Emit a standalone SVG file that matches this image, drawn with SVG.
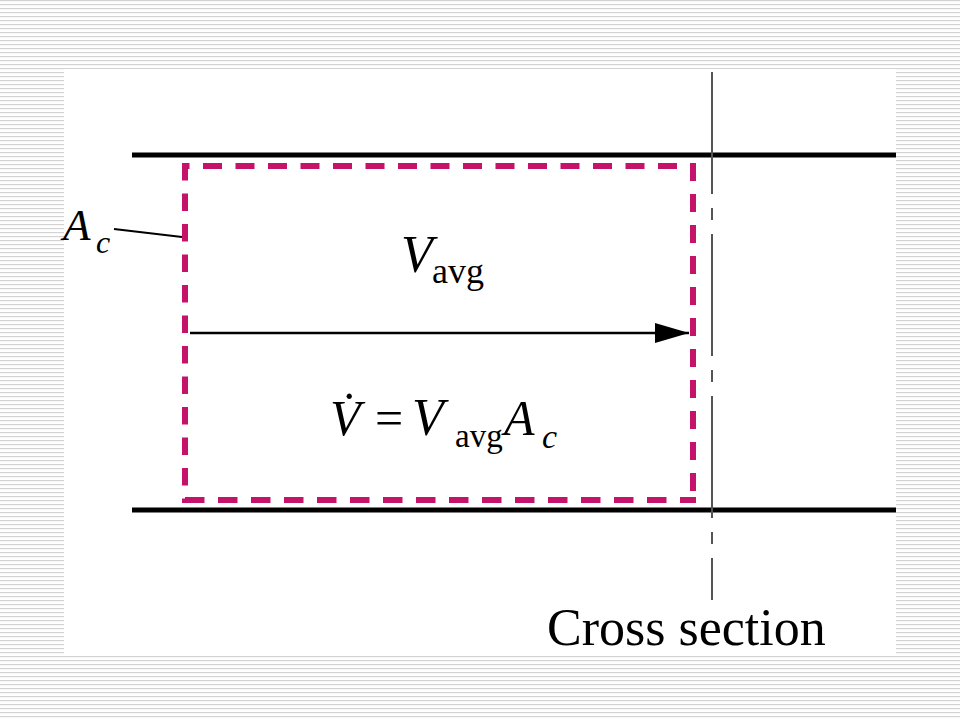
<svg xmlns="http://www.w3.org/2000/svg" width="960" height="720" viewBox="0 0 960 720">
  <defs>
    <pattern id="stripes" x="0" y="0" width="8" height="4" patternUnits="userSpaceOnUse">
      <rect x="0" y="0" width="8" height="1.2" fill="#d3d3d3"/>
    </pattern>
    <marker id="arrowhead" viewBox="0 0 34 20" refX="34" refY="10" markerWidth="34" markerHeight="20" markerUnits="userSpaceOnUse" orient="auto">
      <polygon points="0,0 34,10 0,20" fill="#000"/>
    </marker>
  </defs>
  <style>
    .pipe { stroke: #000; stroke-width: 5; fill: none; }
    .cv { stroke: #c5126b; stroke-width: 6; fill: none; }
    .xsec { stroke: #555; stroke-width: 2; fill: none; stroke-dasharray: 122 14 12 14; }
    .conn { stroke: #000; fill: none; }
    .serif { font-family: "Liberation Serif", "Times New Roman", serif; fill: #000; }
    .it { font-style: italic; }
  </style>

  <rect x="0" y="0" width="960" height="720" fill="#fff"/>
  <rect x="0" y="0" width="960" height="720" fill="url(#stripes)"/>
  <rect x="64" y="69" width="832" height="586" fill="#fff"/>

  <g id="pipe">
    <line class="pipe" x1="132" y1="155" x2="896" y2="155"/>
    <line class="pipe" x1="132" y1="510" x2="896" y2="510"/>
  </g>

  <g id="cross-section">
    <line class="xsec" x1="712" y1="72" x2="712" y2="600"/>
    <text class="serif" x="547" y="645" font-size="52">Cross section</text>
  </g>

  <g id="control-volume">
    <line class="cv" x1="182" y1="166" x2="696" y2="166" stroke-dasharray="19 13.5" stroke-dashoffset="11.5"/>
    <line class="cv" x1="182" y1="500" x2="696" y2="500" stroke-dasharray="19.5 13.5" stroke-dashoffset="-3"/>
    <line class="cv" x1="185" y1="163" x2="185" y2="503" stroke-dasharray="17.5 13"/>
    <line class="cv" x1="693" y1="163" x2="693" y2="503" stroke-dasharray="18 13"/>
  </g>

  <g id="label-Ac">
    <text class="serif it" x="63" y="240" font-size="45">A</text>
    <text class="serif it" x="96" y="253" font-size="32">c</text>
  </g>

  <g id="label-Vavg">
    <text class="serif it" x="401" y="272" font-size="52">V</text>
    <text class="serif" x="432" y="283" font-size="36">avg</text>
  </g>

  <g id="label-equation">
    <text class="serif it" x="330" y="435" font-size="50">V̇</text>
    <text class="serif" x="375" y="435" font-size="50">=</text>
    <text class="serif it" x="412" y="435" font-size="52">V</text>
    <text class="serif" x="455" y="447" font-size="33">avg</text>
    <text class="serif it" x="504" y="435" font-size="50">A</text>
    <text class="serif it" x="542" y="448" font-size="34">c</text>
  </g>

  <g id="connectors">
    <line class="conn" x1="190" y1="333" x2="689" y2="333" stroke-width="2.5" marker-end="url(#arrowhead)"/>
    <line class="conn" x1="114" y1="229" x2="182" y2="237" stroke-width="2"/>
  </g>
</svg>
